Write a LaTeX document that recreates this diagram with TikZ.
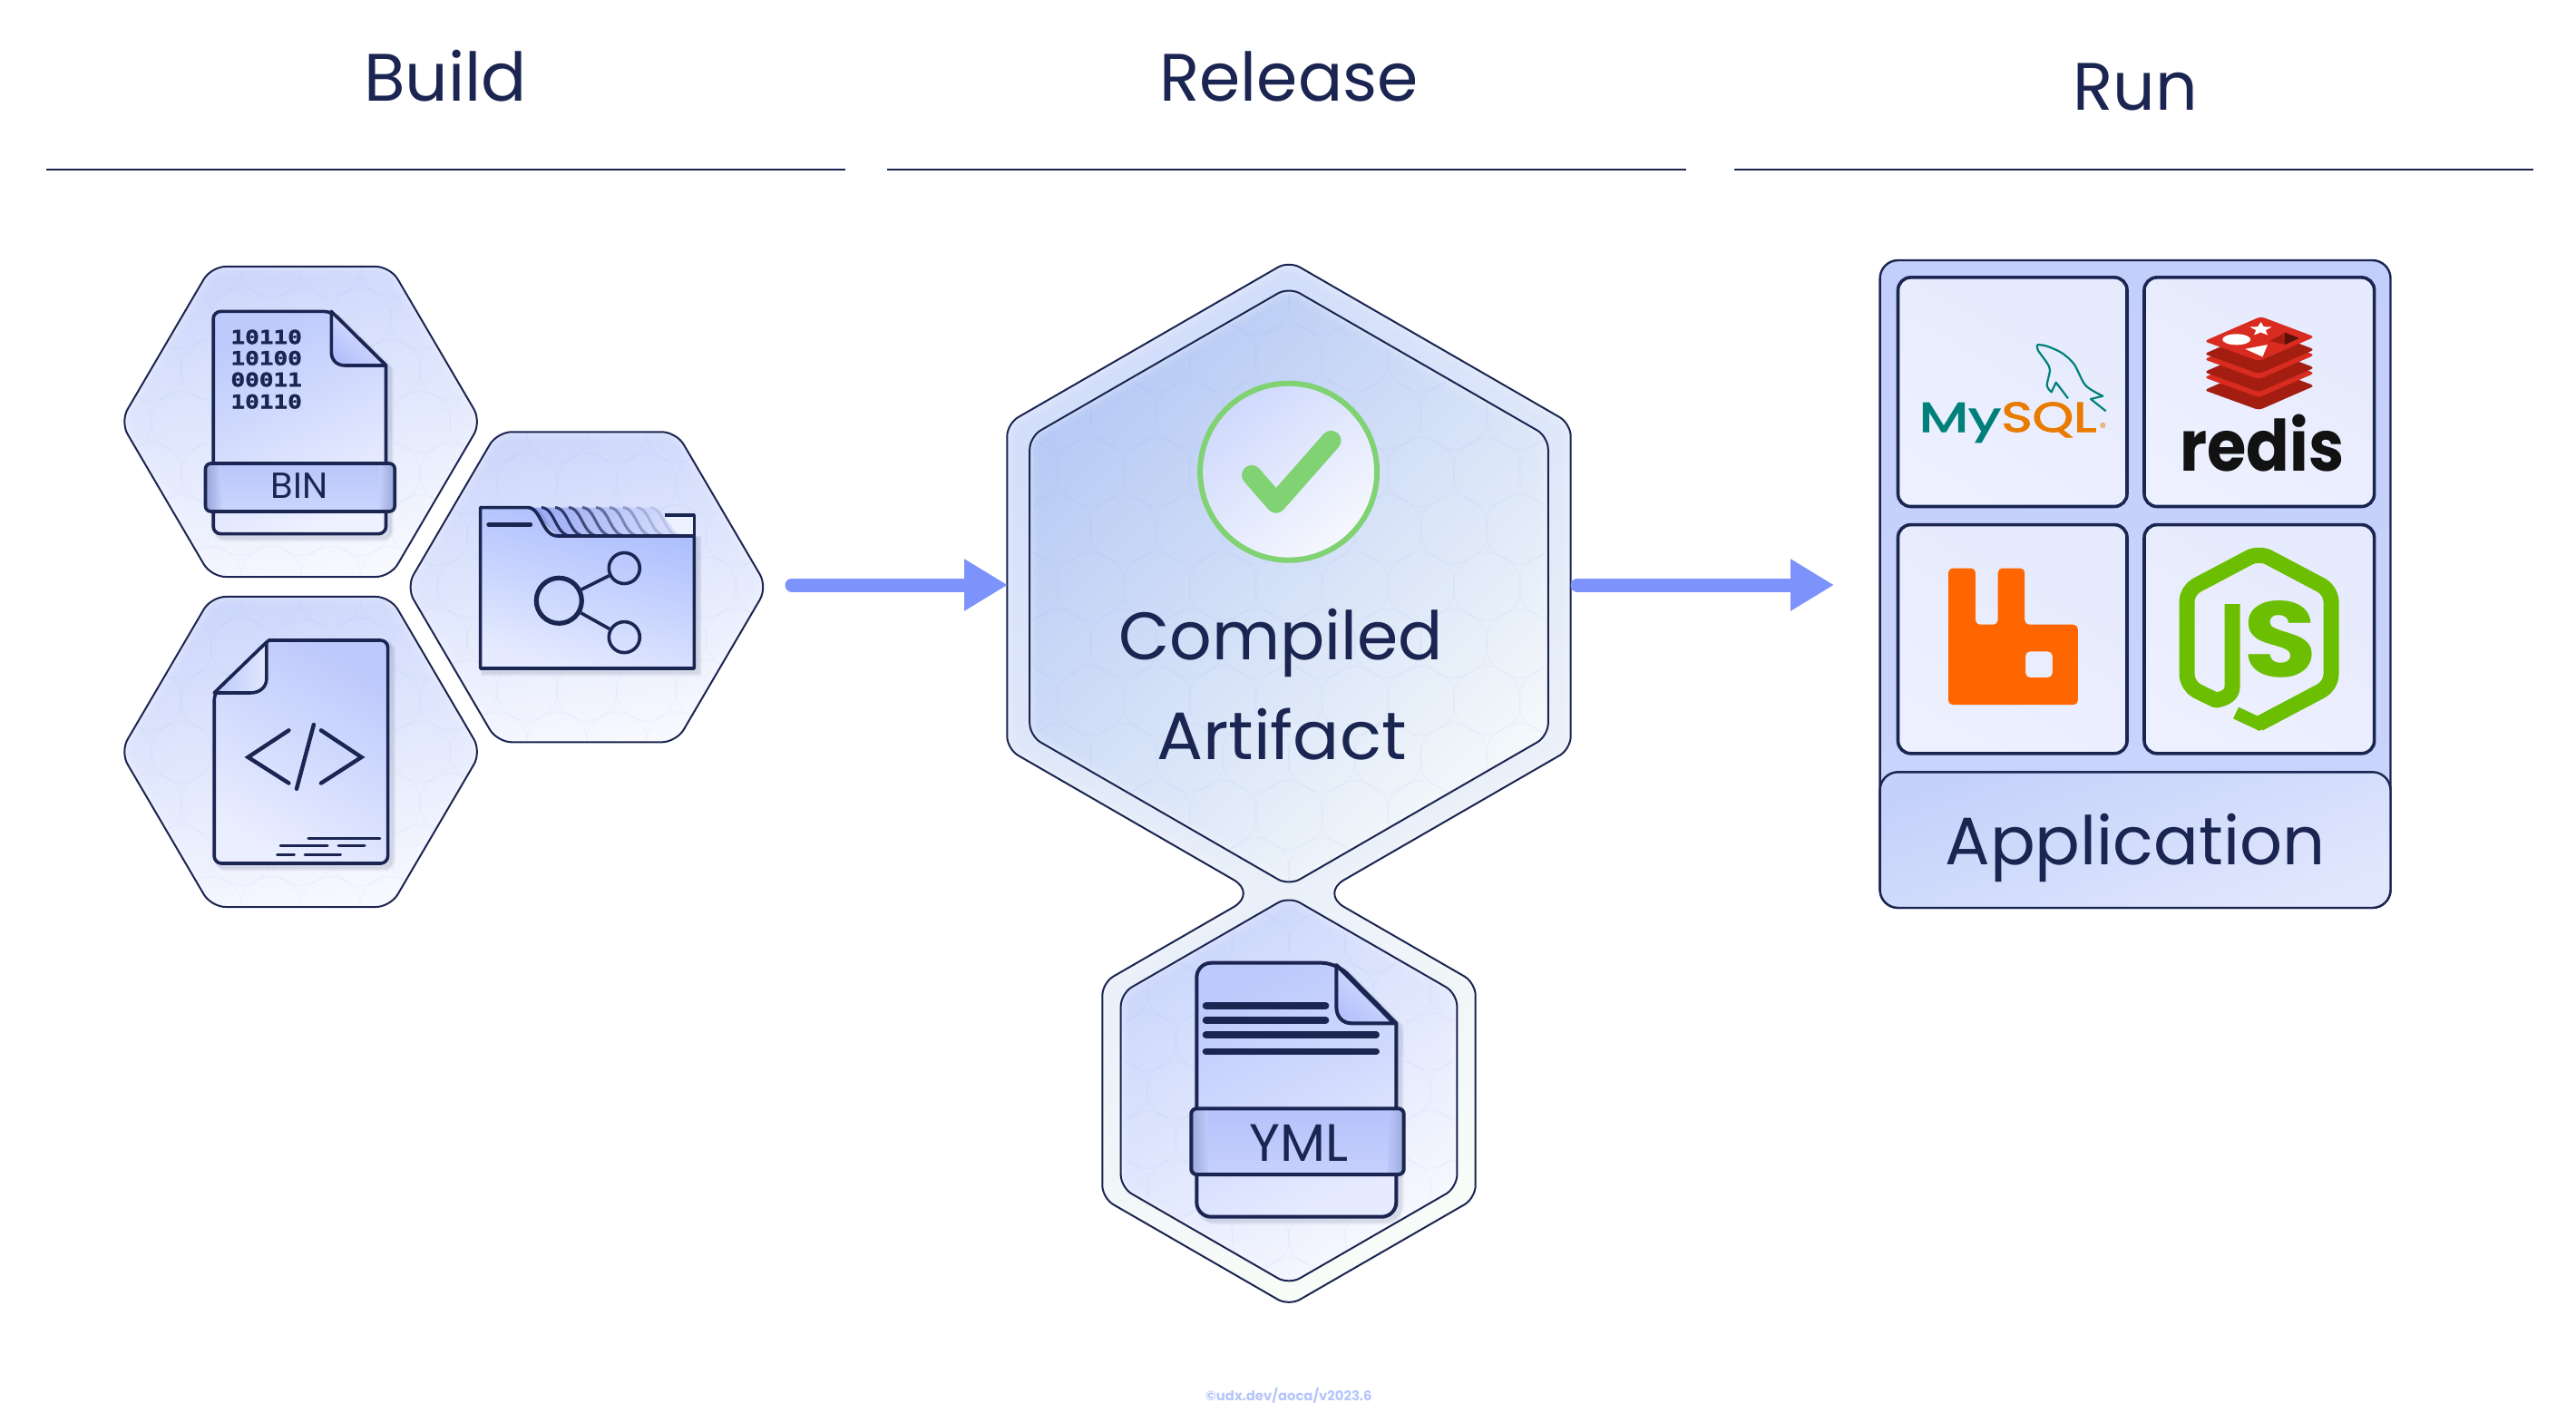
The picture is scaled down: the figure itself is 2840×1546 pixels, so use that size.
\documentclass[tikz,border=0pt]{standalone}
\usepackage{fontspec}
\setmainfont{Poppins}
\newfontfamily\binfont[BoldFeatures={FakeBold=1.6}]{DejaVu Sans Mono}
\newfontfamily\sqlfont[FakeBold=2.2]{Poppins}
\usetikzlibrary{arrows.meta,shapes.geometric,calc}
\definecolor{navy}{HTML}{1B2551}
\definecolor{flow}{HTML}{7C93FB}
\definecolor{teal}{HTML}{00807A}
\definecolor{sqlo}{HTML}{E97B00}
\definecolor{rab}{HTML}{FF6600}
\definecolor{nodeg}{HTML}{6CBF00}
\definecolor{rred}{HTML}{D92B20}
\definecolor{rdark}{HTML}{A31E11}
\definecolor{chk}{HTML}{80D272}
\newcommand\hx[1]{\definecolor{#1}{HTML}{#1}}
\hx{CDD7FB}\hx{F7F9FF}\hx{BDCAFC}\hx{EEF1FF}\hx{E4E9FE}\hx{B3C0FC}\hx{B9C6FB}\hx{CBD5FC}\hx{9AA8DA}\hx{C3CEFB}\hx{BDC9FC}\hx{EAEEFF}\hx{B9C6FC}\hx{EDF0FE}\hx{8EA2F3}\hx{E8ECFE}\hx{A8BBFD}\hx{E6EBFF}\hx{D3DEFA}\hx{F8FCF8}\hx{B7CAF5}\hx{F3F8FA}\hx{CBD6FB}\hx{CFD9FD}\hx{F6F8FE}\hx{BCC9FC}\hx{DCE2FE}\hx{B5C2FC}\hx{C6D1FC}\hx{9FACDD}\hx{BFCBFB}\hx{BAC6FB}\hx{C3CFFB}\hx{CAD5FB}\hx{C4D1FA}\hx{E1E7FD}\hx{B4C6FB}\hx{E5EAFD}\hx{DCE2FE}
\newcommand\flathex[3]{({#1+#3+1.5},#2) -- ({#1+#3/2},{#2-0.866*#3}) -- ({#1-#3/2},{#2-0.866*#3}) -- ({#1-#3-1.5},#2) -- ({#1-#3/2},{#2+0.866*#3}) -- ({#1+#3/2},{#2+0.866*#3}) -- cycle}
\newcommand\pointhex[3]{(#1,{#2-#3}) -- ({#1+0.866*#3},{#2-#3/2}) -- ({#1+0.866*#3},{#2+#3/2}) -- (#1,{#2+#3}) -- ({#1-0.866*#3},{#2+#3/2}) -- ({#1-0.866*#3},{#2-#3/2}) -- cycle}
% faint honeycomb + soft inner glow, to be used inside a clip
\newcommand\cells[3]{%
  \foreach \i in {-7,...,7}{\foreach \j in {-7,...,7}{%
    \draw[flow,draw opacity=.035,line width=.8pt,shift={({#1+(\i+Mod(\j,2)/2)*1.732*#3},{#2+\j*1.5*#3})}]
      (30:#3) -- (90:#3) -- (150:#3) -- (210:#3) -- (270:#3) -- (330:#3) -- cycle;}}}
\newcommand\glowhex[1]{%
  \draw[white,draw opacity=.07,line width=9pt] #1;
  \draw[white,draw opacity=.10,line width=5pt] #1;
  \draw[white,draw opacity=.14,line width=2.5pt] #1;}
\newcommand\glass[4]{% path, centre x, centre y, cell
  \begin{scope}\clip #1;\cells{#2}{#3}{#4}\glowhex{#1}\end{scope}}
\tikzset{
  x=0.5pt,y=-0.5pt,
  hexline/.style={draw=navy,line width=1pt,rounded corners=8pt},
  hexfill/.style={top color=#1,bottom color=F7F9FF,shading angle=12},
  hexfill/.default=CDD7FB,
  title/.style={font=\fontsize{37}{37}\selectfont,text=navy,anchor=base,inner sep=0pt,xscale=.985},
  rule/.style={draw=navy,line width=1pt},
  flowline/.style={draw=flow,line width=7.5pt,line cap=round,-{Triangle[length=24pt,width=27pt]},color=flow},
  ink/.style={draw=navy,line width=1.8pt,line join=round},
  softshadow/.style={preaction={draw=navy,draw opacity=.06,line width=4pt,transform canvas={shift={(2.2pt,-2.2pt)}}},preaction={draw=navy,draw opacity=.08,line width=2.4pt,transform canvas={shift={(2pt,-2pt)}}}},
  card/.style={draw=navy,line width=1.8pt,rounded corners=7pt,left color=E5EAFD,right color=EDF0FE,shading angle=-30},
  band/.style={draw=navy,line width=1.8pt,rounded corners=3pt},
  strokeline/.style={draw=navy,line cap=round,line width=2.2pt},
}
\begin{document}
\begin{tikzpicture}
\useasboundingbox (0,0) rectangle (2840,1546);
\fill[white] (0,0) rectangle (2840,1546);

% ---------- headers
\node[title,xscale=1.02] (buildT) at (491,112) {Build};
\node[title] (releaseT) at (1421,112) {Release};
\node[title] (runT) at (2354,122) {Run};
\coordinate (r1a) at (51,187); \coordinate (r1b) at (932,187);
\coordinate (r2a) at (978,187); \coordinate (r2b) at (1859,187);
\coordinate (r3a) at (1912,187); \coordinate (r3b) at (2793,187);
\draw[rule] (r1a) -- (r1b); \draw[rule] (r2a) -- (r2b); \draw[rule] (r3a) -- (r3b);

% ---------- build hexagons
\foreach \cx/\cy in {331.6/465,331.6/829,646.9/647.3}{
  \shade[hexfill,rounded corners=8pt] \flathex{\cx}{\cy}{197.5};
  \begin{scope}[rounded corners=8pt]\glass{\flathex{\cx}{\cy}{197.5}}{\cx}{\cy}{38}\end{scope}
  \draw[hexline] \flathex{\cx}{\cy}{197.5};
}

% BIN file
\shade[top color=BDCAFC,bottom color=EEF1FF,shading angle=25,ink,softshadow,rounded corners=4pt]
  (235.2,343.4) -- (365.3,343.4) [sharp corners] -- (425.5,403) [rounded corners=4pt] -- (425.5,588.6) -- (235.2,588.6) -- cycle;
\path[draw=navy,line width=1.8pt,left color=E4E9FE,right color=B3C0FC,line join=round,shading angle=-40]
  (365.3,343.4) -- (365.3,388) .. controls (365.3,397) and (371,403) .. (380.6,403) -- (425.5,403) -- cycle;
\foreach \nm/\yy/\tx in {b1/371.5/10110,b2/394.8/10100,b3/418.5/00011,b4/442.7/10110}{
  \node[font=\binfont\bfseries\fontsize{10.5}{10.5}\selectfont,text=navy,anchor=west,inner sep=0pt,xscale=1.24] (\nm) at (254,\yy) {\tx};
}
\shade[top color=B9C6FB,bottom color=CBD5FC,rounded corners=3pt] (226.5,511) rectangle (435.2,564);
\shade[left color=9AA8DA,right color=C3CEFB] (228,513) rectangle (244,562);
\shade[left color=C3CEFB,right color=9AA8DA] (418,513) rectangle (434,562);
\draw[band] (226.5,511) rectangle (435.2,564);
\node[font=\fontsize{20}{20}\selectfont,text=navy,inner sep=0pt] (binL) at (330,536) {BIN};

% source code file
\shade[top color=BDC9FC,bottom color=EAEEFF,shading angle=-30,ink,softshadow,rounded corners=4pt]
  (296.4,706) -- (427.6,706) -- (427.6,952) -- (236.2,952) -- (236.2,764) [sharp corners] -- cycle;
\path[draw=navy,line width=1.8pt,left color=B9C6FC,right color=E4E9FE,line join=round]
  (293.9,708) -- (293.9,748) .. controls (293.9,758) and (286,764) .. (276,764) -- (236.2,764) -- cycle;
\draw[strokeline] (318.4,805.3) -- (273.5,834.9) -- (318.4,863.5);
\draw[strokeline] (354,805.3) -- (398.5,834.9) -- (354,863.5);
\draw[strokeline] (345.9,799) -- (327,869.8);
\foreach \a/\b/\yy in {339.8/418.9/924,309.2/361.2/932.8,373/402/932.8,305.6/324.5/942,336.2/375.5/942}{
  \draw[draw=navy,line width=1.5pt,line cap=round] (\a,\yy) -- (\b,\yy);
}

% shared folder
\fill[EDF0FE] (600,567.8) rectangle (765.3,600);
\draw[draw=navy,line width=1.8pt,line join=round] (732.6,567.8) -- (765.3,567.8) -- (765.3,600);
\shade[left color=8EA2F3,right color=DCE2FE,fill opacity=.92] (582,559.6) -- (720,559.6) .. controls (734,560) and (738,591) .. (756,591) -- (615,591) -- cycle;
\foreach \k/\op in {1/.95,2/.85,3/.75,4/.65,5/.55,6/.42,7/.3,8/.2,9/.12}{
  \draw[draw=navy,draw opacity=\op,line width=1.5pt,xshift=7.5pt*\k] (582,559.6) .. controls (597,560) and (597,591) .. (615,591);
}
\shade[left color=A8BBFD,right color=E6EBFF,shading angle=-15,ink,softshadow]
  (529.6,559.6) -- (582,559.6) .. controls (597,560) and (597,591) .. (615,591) -- (765.3,591) -- (765.3,737) -- (529.6,737) -- cycle;
\coordinate (t1) at (538.8,578.5); \coordinate (t2) at (584.7,578.5);
\draw[draw=navy,line width=2.5pt,line cap=round] (t1) -- (t2);
\node[circle,draw=navy,line width=2.6pt,minimum size=25pt,inner sep=0pt] (big) at (616.3,662.3) {};
\node[circle,draw=navy,line width=1.8pt,minimum size=17pt,inner sep=0pt] (up) at (688.3,626.5) {};
\node[circle,draw=navy,line width=1.8pt,minimum size=17pt,inner sep=0pt] (down) at (688.3,702.6) {};
\draw[draw=navy,line width=1.8pt] (big) -- (up);
\draw[draw=navy,line width=1.8pt] (big) -- (down);

% ---------- release outline
\def\relpath{(1421,287.7) -- (1731.7,467.1) -- (1731.7,825.9) [rounded corners=15pt] -- (1456,985.1) [rounded corners=7pt] -- (1626.7,1083.65) -- (1626.7,1321.15) -- (1421,1439.9) -- (1215.3,1321.15) -- (1215.3,1083.65) [rounded corners=15pt] -- (1386,985.1) [rounded corners=7pt] -- (1110.3,825.9) -- (1110.3,467.1) -- cycle}
\shade[top color=D3DEFA,bottom color=F8FCF8,shading angle=30,rounded corners=7pt] \relpath;
\begin{scope}[rounded corners=7pt]
 \begin{scope}\clip \relpath; \glowhex{\relpath}\end{scope}
\end{scope}
\draw[draw=navy,line width=1pt,rounded corners=7pt] \relpath;

\shade[rounded corners=7pt,top color=B7CAF5,bottom color=F3F8FA,shading angle=45] \pointhex{1421}{646.5}{330};
\begin{scope}[rounded corners=7pt]\glass{\pointhex{1421}{646.5}{330}}{1421}{646.5}{42}\end{scope}
\draw[draw=navy,line width=1pt,rounded corners=7pt] \pointhex{1421}{646.5}{330};

\shade[rounded corners=7pt,top color=CBD6FB,bottom color=F7F9FF,shading angle=35] \pointhex{1421}{1202.4}{214};
\begin{scope}[rounded corners=7pt]\glass{\pointhex{1421}{1202.4}{214}}{1421}{1202.4}{36}\end{scope}
\draw[draw=navy,line width=1pt,rounded corners=7pt] \pointhex{1421}{1202.4}{214};

% check mark
\node[circle,draw=chk,line width=3pt,minimum size=97.5pt,inner sep=0pt,top color=CFD9FD,bottom color=F6F8FE,shading angle=40] (ok) at (1420.6,520.2) {};
\coordinate (c1) at (1380,523.9); \coordinate (c2) at (1406.8,554.7); \coordinate (c3) at (1467.5,485.8);
\draw[draw=chk,line width=11pt,line cap=round,line join=round] (c1) -- (c2) -- (c3);
\node[title] (compiled) at (1412,727) {Compiled};
\node[title,xscale=1.04] (artifact) at (1413,837) {Artifact};

% YML file
\shade[top color=BCC9FC,bottom color=E6EBFF,shading angle=25,draw=navy,line width=2pt,line join=round,softshadow,rounded corners=8pt]
  (1319.3,1061.7) -- (1473.3,1061.7) [sharp corners] -- (1539.3,1128.3) [rounded corners=8pt] -- (1539.3,1341.7) -- (1319.3,1341.7) -- cycle;
\path[draw=navy,line width=2pt,left color=DCE2FE,right color=B5C2FC,line join=round,shading angle=-40]
  (1473.3,1064) -- (1473.3,1110) .. controls (1473.3,1121) and (1480,1128.3) .. (1490,1128.3) -- (1537,1128.3) -- cycle;
\foreach \b/\yy in {1461.7/1109,1461.7/1125,1517.3/1141,1517.3/1159.3}{
  \draw[draw=navy,line width=3.6pt,line cap=round] (1329.3,\yy) -- (\b,\yy);
}
\shade[top color=B5C2FC,bottom color=C6D1FC,rounded corners=3pt] (1313.3,1222.3) rectangle (1547.7,1295);
\shade[left color=9FACDD,right color=BFCBFB] (1315,1224) rectangle (1332,1293);
\shade[left color=BAC6FB,right color=9FACDD] (1530,1224) rectangle (1546,1293);
\draw[band,line width=2pt] (1313.3,1222.3) rectangle (1547.7,1295);
\node[font=\fontsize{29}{29}\selectfont,text=navy,inner sep=0pt] (ymlL) at (1432,1260) {YML};

% ---------- arrows
\coordinate (bOut) at (873,645); \coordinate (rIn) at (1111,645);
\coordinate (rOut) at (1739,645); \coordinate (runIn) at (2022,645);
\draw[flowline] (bOut) -- (rIn);
\draw[flowline] (rOut) -- (runIn);

% ---------- application
\shade[draw=navy,line width=1.2pt,rounded corners=10pt,top color=C3CFFB,bottom color=CAD5FB] (2072.6,287) rectangle (2635.5,1001);
\draw[card] (2092.5,305.9) rectangle (2345,558.5);
\draw[card] (2364,305.9) rectangle (2617.6,558.5);
\draw[card] (2092.5,578.6) rectangle (2345,830.8);
\draw[card] (2364,578.6) rectangle (2617.6,830.8);
\shade[draw=navy,line width=1.2pt,top color=C4D1FA,bottom color=E1E7FD,shading angle=20,rounded corners=10pt] (2072.6,851.3) rectangle (2635.5,1001);
\node[title,xscale=1.01] (app) at (2354,953) {Application};

% MySQL
\node[font=\sqlfont\fontsize{23}{23}\selectfont,text=teal,anchor=base west,inner sep=0pt,xscale=1.38] (my) at (2115,476) {My};
\node[font=\sqlfont\fontsize{23}{23}\selectfont,text=sqlo,anchor=base west,inner sep=0pt,xscale=1.26] (sql) at (2206,476) {SQL};
\node[font=\fontsize{7}{7}\selectfont,text=sqlo,inner sep=0pt] (regd) at (2318.3,472) {®};
\draw[draw=teal,line width=1.1pt,line join=round] plot[smooth] coordinates {(2246,380) (2256.7,381.7) (2273.3,389.3) (2286.7,401.7) (2299.3,425) (2318.3,436.7)} -- (2305,440) -- (2321.7,453.3);
\draw[draw=teal,line width=1.1pt,line join=round] plot[smooth] coordinates {(2246,380) (2246.7,386) (2256.7,400) (2260,408.3) (2256.7,425) (2261.7,432.3)} -- (2266.7,421.7) -- (2280,439.3);

% redis
\foreach \k in {2,1,0}{
 \begin{scope}[yshift=-10pt*\k]
  \fill[rdark,rounded corners=2pt] (2492.5,363) -- (2551.8,385.4) -- (2490.5,412.2) -- (2430,390.2) -- cycle;
  \fill[rred,rounded corners=2pt] (2492.5,349) -- (2551.8,371.4) -- (2490.5,398.2) -- (2430,376.2) -- cycle;
 \end{scope}
}
\fill[white] (2465.7,374.3) ellipse [x radius=15.5,y radius=6];
\node[star,star points=5,star point ratio=2.3,fill=white,inner sep=0pt,minimum size=8pt,xscale=1.6] (rstar) at (2492.5,363) {};
\fill[white] (2475.2,384.8) -- (2500,380) -- (2494.4,393.4) -- cycle;
\fill[rdark] (2502,376.2) -- (2519.2,366.7) -- (2534.6,372.9) -- (2519.2,380) -- cycle;
\fill[black!20!rdark!70!black] (2519.2,366.7) -- (2534.6,372.9) -- (2519.2,380) -- cycle;
\node[font=\bfseries\fontsize{39}{39}\selectfont,text=black!93,anchor=base,inner sep=0pt,xscale=.9] (redis) at (2494,519) {redis};

% RabbitMQ
\fill[rab,rounded corners=2.5pt,even odd rule]
  (2148,626.5) -- (2177.9,626.5) -- (2177.9,688.7) -- (2202.7,688.7) -- (2202.7,626.5) -- (2232.2,626.5) -- (2232.2,688.7) -- (2290.8,688.7) -- (2290.8,777.2) -- (2148,777.2) -- cycle
  (2233,718.3) -- (2262.8,718.3) -- (2262.8,747) -- (2233,747) -- cycle;

% Node.js
\draw[draw=nodeg,line width=8.5pt,line join=round,rounded corners=6pt]
  (2461,666) -- (2461,746) .. controls (2461,770) and (2443,772) .. (2432,767) -- (2411,756) -- (2411,651) -- (2490.5,609) -- (2570,651) -- (2570,756) -- (2490.5,798);
\draw[draw=nodeg,line width=7pt] (2494,796) -- (2490.5,798) -- (2465,786);
\node[font=\bfseries\fontsize{59}{59}\selectfont,text=nodeg,anchor=center,inner sep=0pt,xscale=1.12] (jsS) at (2514,705) {S};

% ---------- signature
\node[font=\bfseries\fontsize{7.4}{7.4}\selectfont,text=B4C6FB,inner sep=0pt] (sig) at (1421,1539) {©udx.dev/aoca/v2023.6};
\end{tikzpicture}
\end{document}
